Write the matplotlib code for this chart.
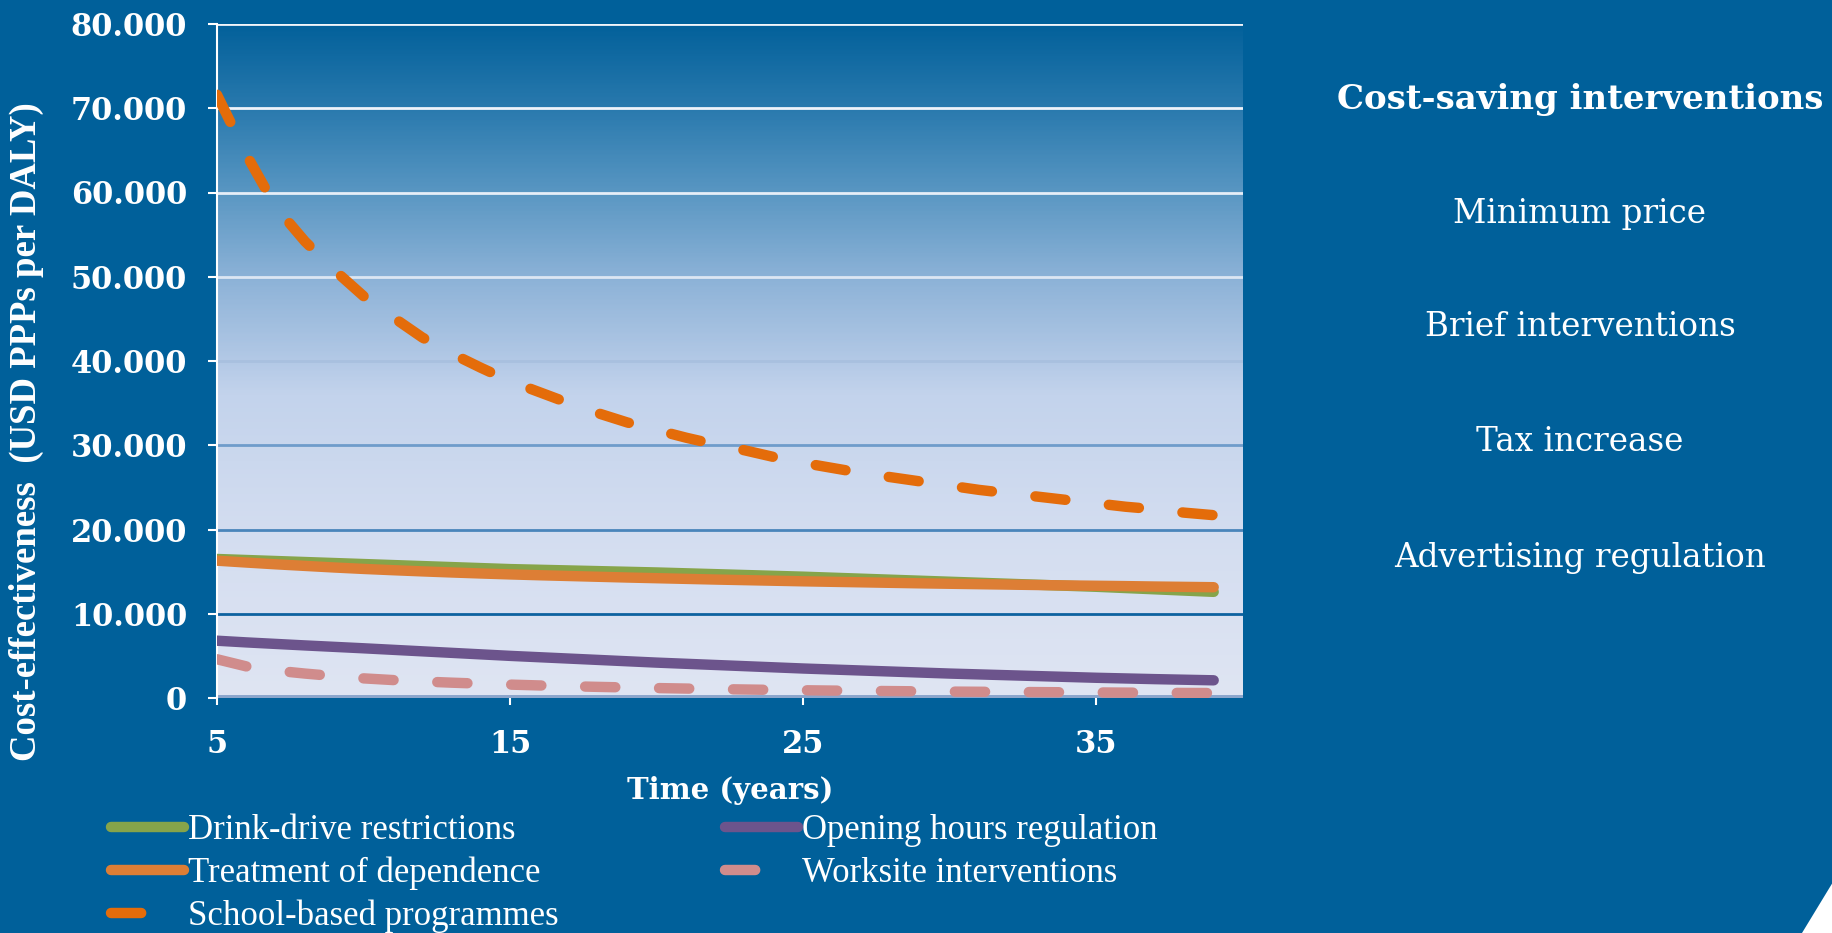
import matplotlib
matplotlib.use('Agg')
import matplotlib.pyplot as plt
from matplotlib.colors import LinearSegmentedColormap
from matplotlib.patches import Polygon
import numpy as np

# Data (USD PPPs per DALY by year)
years = list(range(5, 40))
drink_drive = [16500, 16380, 16260, 16140, 16020, 15900, 15780, 15660, 15540, 15420,
               15300, 15220, 15140, 15060, 14980, 14900, 14800, 14700, 14600, 14500,
               14400, 14280, 14160, 14040, 13920, 13800, 13680, 13560, 13440, 13320,
               13200, 13050, 12900, 12750, 12600]
treatment = [16300, 16080, 15870, 15680, 15490, 15320, 15170, 15030, 14900, 14780,
             14670, 14570, 14480, 14390, 14300, 14220, 14140, 14060, 13990, 13920,
             13850, 13790, 13730, 13670, 13610, 13560, 13510, 13460, 13410, 13360,
             13320, 13280, 13230, 13190, 13150]
school = [71600, 64500, 58300, 54200, 50800, 47700, 45200, 42800, 40900, 39200,
          37600, 36300, 35000, 33800, 32700, 31800, 30900, 30100, 29400, 28600,
          27900, 27300, 26700, 26200, 25700, 25200, 24700, 24300, 23900, 23500,
          23100, 22700, 22400, 22000, 21700]
opening = [6800, 6600, 6420, 6240, 6070, 5900, 5720, 5540, 5360, 5180,
           5000, 4840, 4680, 4520, 4360, 4200, 4060, 3920, 3780, 3640,
           3500, 3380, 3260, 3140, 3020, 2900, 2800, 2700, 2600, 2500,
           2400, 2320, 2240, 2170, 2100]
worksite = [4600, 3750, 3250, 2900, 2600, 2330, 2130, 1960, 1820, 1700,
            1590, 1490, 1400, 1320, 1250, 1180, 1120, 1060, 1010, 960,
            920, 880, 850, 820, 790, 760, 740, 720, 700, 680,
            660, 640, 620, 600, 590]

y_ticks = [0, 10000, 20000, 30000, 40000, 50000, 60000, 70000, 80000]
y_labels = ['0', '10.000', '20.000', '30.000', '40.000', '50.000', '60.000', '70.000', '80.000']
x_ticks = [5, 15, 25, 35]
cost_saving = ['Minimum price', 'Brief interventions', 'Tax increase', 'Advertising regulation']

bg = '#00609a'
W, H = 1833, 933
fig = plt.figure(figsize=(W / 100, H / 100), dpi=100, facecolor=bg)
ax = fig.add_axes([217 / W, 1 - 698 / H, (1243 - 217) / W, (698 - 24) / H])
ax.set_facecolor(bg)
ax.set_xlim(5, 40)
ax.set_ylim(0, 80000)

# gradient background of the plot area (bottom -> top)
grad = LinearSegmentedColormap.from_list('g', [
    (0.0, '#dfe5f3'), (0.25, '#d3ddf0'), (0.45, '#c3d3ec'),
    (0.5, '#b3c9e6'), (0.625, '#8cb2d7'), (0.75, '#5a97c3'),
    (0.875, '#2a7aae'), (1.0, '#03619b')])
ax.imshow(np.linspace(0, 1, 400).reshape(-1, 1), cmap=grad, origin='lower',
          extent=[5, 40, 0, 80000], aspect='auto', zorder=0)

grid_colors = ['#8aa5cc', '#0d62a0', '#4a85bb', '#6f9ccb', '#a8c0df',
               '#dce6f3', '#e6eef8', '#eef3fa', '#f2f5fa']
for v, c in zip(y_ticks[1:], grid_colors[1:]):
    ax.axhline(v, color=c, lw=2, zorder=1)
ax.axhline(0, color=grid_colors[0], lw=5, zorder=1)

lw = 7.5
ax.plot(years, drink_drive, color='#86a44a', lw=lw, solid_capstyle='round',
        label='Drink-drive restrictions', zorder=3)
ax.plot(years, treatment, color='#dd7e35', lw=lw, solid_capstyle='round',
        label='Treatment of dependence', zorder=3)
ax.plot(years, school, color='#e46c0a', lw=lw, dashes=(2.9, 4.2),
        dash_capstyle='round', label='School-based programmes', zorder=3)
ax.plot(years, opening, color='#6c548c', lw=lw, solid_capstyle='round',
        label='Opening hours regulation', zorder=3)
ax.plot(years, worksite, color='#d08c8c', lw=lw, dashes=(2.9, 4.2),
        dash_capstyle='round', label='Worksite interventions', zorder=3)

for s in ['top', 'right', 'bottom']:
    ax.spines[s].set_visible(False)
ax.spines['left'].set_color('white')
ax.spines['left'].set_linewidth(1.5)

ax.set_yticks(y_ticks)
ax.set_yticklabels(y_labels)
ax.set_xticks(x_ticks)
ax.tick_params(axis='y', colors='white', length=6.5, width=1.5, pad=15)
ax.tick_params(axis='x', colors='white', length=5, width=1.5, pad=17)
for lab in ax.get_yticklabels() + ax.get_xticklabels():
    lab.set_fontfamily('DejaVu Serif')
    lab.set_fontweight('bold')
    lab.set_fontsize(22)

ax.set_xlabel('Time (years)', color='white', fontsize=21, fontweight='bold',
              family='DejaVu Serif', labelpad=12)
ax.set_ylabel('Cost-effectiveness  (USD PPPs per DALY)', color='white', fontsize=26.5,
              fontweight='bold', family='Liberation Serif')
ax.yaxis.set_label_coords(-0.169, 0.395)

leg = ax.legend(ncol=2, loc='upper left', bbox_to_anchor=(111 / W, 1 - 814 / H),
                bbox_transform=fig.transFigure, frameon=False, borderpad=0,
                borderaxespad=0, handlelength=2.1, handletextpad=0.12,
                columnspacing=4.8, labelspacing=0.28,
                prop={'family': 'Liberation Serif', 'size': 25})
for t in leg.get_texts():
    t.set_color('white')

fig.text(1580 / W, 1 - 99 / H, 'Cost-saving interventions', color='white',
         fontsize=24.5, fontweight='bold', family='DejaVu Serif', ha='center', va='center')
for name, yp in zip(cost_saving, [214, 327, 442, 558]):
    fig.text(1580 / W, 1 - yp / H, name, color='white', fontsize=23.5,
             family='DejaVu Serif', ha='center', va='center')

# white corner of the slide
fig.patches.append(Polygon([(1802 / W, 0), (1, 51 / H), (1, 0)], closed=True,
                           transform=fig.transFigure, facecolor='white', edgecolor='none'))

fig.savefig('out.png', dpi=100, facecolor=bg)
